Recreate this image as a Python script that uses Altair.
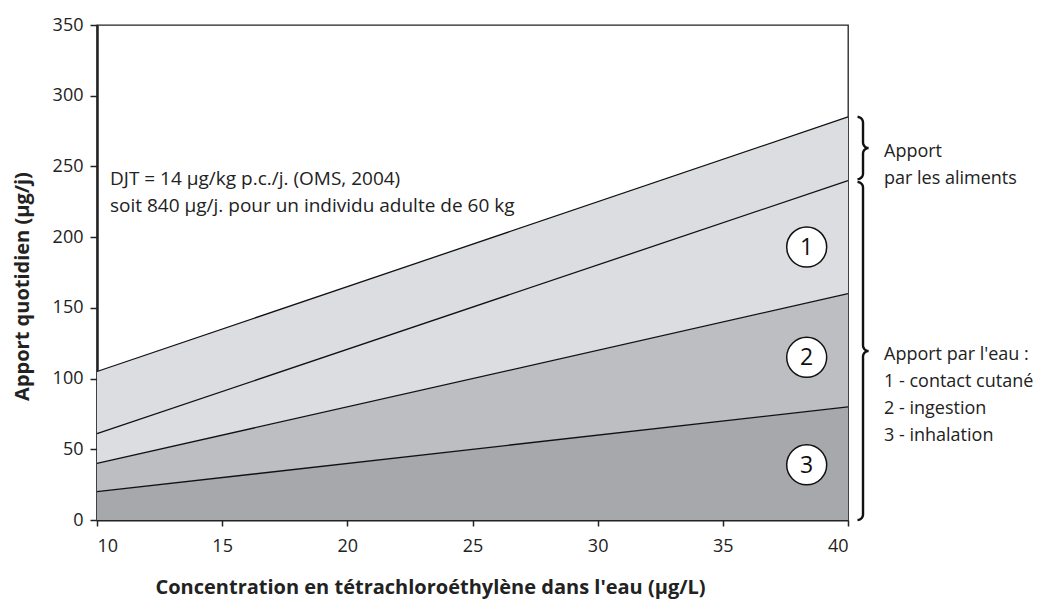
import altair as alt
import pandas as pd
import numpy as np

# ---- data ----
conc = [10, 40]
inhalation_top = [20, 80]
ingestion_top = [40, 160]
contact_top = [61, 240]
food_top = [105, 285]

series = ["3 - inhalation", "2 - ingestion", "1 - contact cutané", "Aliments"]
colors = ["#a7a8ab", "#bdbec1", "#dcdde0", "#dcdde0"]

x_ticks = [10, 15, 20, 25, 30, 35, 40]
y_ticks = [0, 50, 100, 150, 200, 250, 300, 350]

circle_labels = ["1", "2", "3"]
circle_x = [38.35, 38.35, 38.35]
circle_y = [193, 115, 39]

FONT = "Open Sans"

rows = []
bounds = [[0, 0], inhalation_top, ingestion_top, contact_top, food_top]
for i, s in enumerate(series):
    for j, x in enumerate(conc):
        rows.append({"x": x, "series": s, "lo": bounds[i][j], "hi": bounds[i + 1][j], "ord": i})
df = pd.DataFrame(rows)

xs = alt.Scale(domain=[10, 40], nice=False, zero=False)
ys = alt.Scale(domain=[0, 350], nice=False)

X = alt.X("x:Q", scale=xs, axis=alt.Axis(
    values=x_ticks, title="Concentration en tétrachloroéthylène dans l'eau (µg/L)",
    grid=False, domainColor="#222", domainWidth=2, tickColor="#222", tickWidth=1.5,
    tickSize=6, labelFont=FONT, labelFontSize=18, labelColor="#222", labelPadding=11,
    titleFont=FONT, titleFontSize=20, titleFontWeight="bold", titleColor="#222",
    titlePadding=22, titleX=333))
Y = alt.Y("lo:Q", scale=ys, axis=alt.Axis(
    values=y_ticks, title="Apport quotidien (µg/j)", grid=False,
    domainColor="#222", domainWidth=2.5, tickColor="#222", tickWidth=1.5, tickSize=7,
    labelFont=FONT, labelFontSize=18, labelColor="#222", labelPadding=7,
    titleFont=FONT, titleFontSize=20, titleFontWeight="bold", titleColor="#222",
    titlePadding=20, titleY=261))

area = alt.Chart(df).mark_area(opacity=1).encode(
    x=X, y=Y, y2="hi:Q",
    color=alt.Color("series:N", scale=alt.Scale(domain=series, range=colors), legend=None),
    detail="series:N")

lines = alt.Chart(df).mark_line(color="#111", strokeWidth=1.3).encode(
    x=alt.X("x:Q", scale=xs), y=alt.Y("hi:Q", scale=ys), detail="series:N")

cdf = pd.DataFrame({"x": circle_x, "y": circle_y, "t": circle_labels})
circles = alt.Chart(cdf).mark_point(shape="circle", size=1600, filled=True, fill="white",
                                     stroke="#111", strokeWidth=1.5, opacity=1).encode(
    x=alt.X("x:Q", scale=xs), y=alt.Y("y:Q", scale=ys))
ctext = alt.Chart(cdf).mark_text(font=FONT, fontSize=23, color="#111", baseline="middle",
                                  align="center", dy=1).encode(
    x=alt.X("x:Q", scale=xs), y=alt.Y("y:Q", scale=ys), text="t:N")

# ---- braces built from the data boundaries ----
def brace(y0, y1, x0, rx, ry, n=10):
    pts = []
    ym = (y0 + y1) / 2
    th = np.linspace(0, np.pi / 2, n)
    for t in th:
        pts.append((x0 + rx * np.sin(t), y1 - ry + ry * np.cos(t)))
    for t in th:
        pts.append((x0 + 2 * rx - rx * np.cos(t), ym + ry - ry * np.sin(t)))
    for t in th:
        pts.append((x0 + 2 * rx - rx * np.sin(t), ym - ry + ry * np.cos(t)))
    for t in th:
        pts.append((x0 + rx * np.cos(t), y0 + ry - ry * np.sin(t)))
    return pts

brows = []
for name, (b0, b1) in {"food": (contact_top[1] + 1, food_top[1]),
                        "water": (0, contact_top[1] - 1)}.items():
    for k, (bx, by) in enumerate(brace(b0, b1, 40.38, 0.22, 4.0)):
        brows.append({"b": name, "k": k, "x": bx, "y": by})
bdf = pd.DataFrame(brows)
braces = alt.Chart(bdf).mark_line(color="#111", strokeWidth=2.4, clip=False).encode(
    x=alt.X("x:Q", scale=xs), y=alt.Y("y:Q", scale=ys), detail="b:N", order="k:Q")

# ---- text annotations ----
ann = pd.DataFrame({
    "x": [10, 40, 40],
    "y": [241, (contact_top[1] + food_top[1]) / 2 - 2, 117],
    "t": [["DJT = 14 µg/kg p.c./j. (OMS, 2004)", "soit 840 µg/j. pour un individu adulte de 60 kg"],
          ["Apport", "par les aliments"],
          ["Apport par l'eau :", "1 - contact cutané", "2 - ingestion", "3 - inhalation"]],
    "dx": [13, 36, 36],
    "fs": [19, 18, 18],
})
texts = []
for _, r in ann.iterrows():
    texts.append(alt.Chart(pd.DataFrame([r])).mark_text(
        font=FONT, fontSize=int(r["fs"]), color="#222", align="left", baseline="middle",
        lineHeight=27, dx=int(r["dx"]), clip=False).encode(
        x=alt.X("x:Q", scale=xs), y=alt.Y("y:Q", scale=ys), text="t"))

chart = alt.layer(area, lines, braces, circles, ctext, *texts).properties(
    width=751, height=495,
    autosize=alt.AutoSizeParams(type="none"),
    padding={"left": 89, "top": 17, "right": 186, "bottom": 82},
    background="white",
).configure_view(stroke="#222", strokeWidth=1.3)

chart.save("out.html", embed_options={"renderer": "svg", "actions": False})
